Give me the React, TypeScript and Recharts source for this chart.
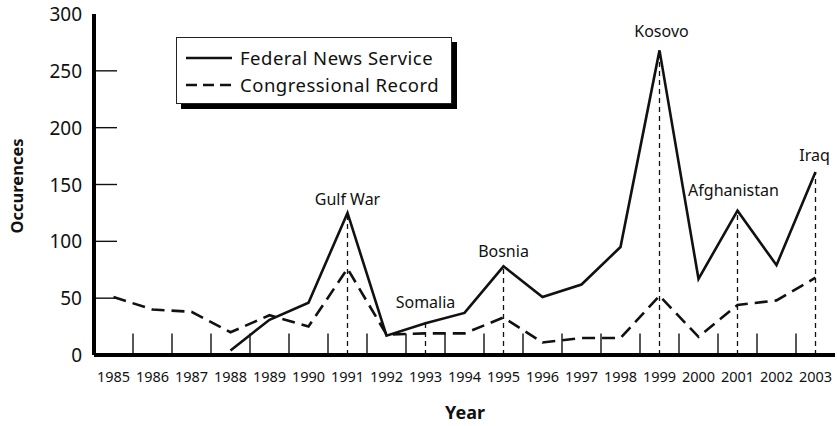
import { LineChart, Line, XAxis, YAxis, ReferenceLine, ReferenceDot, Legend, Label } from 'recharts'

const years = [1985, 1986, 1987, 1988, 1989, 1990, 1991, 1992, 1993, 1994, 1995, 1996, 1997, 1998, 1999, 2000, 2001, 2002, 2003]
const federalNewsService = [null, null, null, 4, 31, 46, 125, 17, 28, 37, 78, 51, 62, 95, 268, 67, 127, 79, 161]
const congressionalRecord = [51, 40, 38, 20, 35, 25, 76, 18, 19, 19, 33, 11, 15, 15, 52, 16, 44, 48, 68]
const yTicks = [0, 50, 100, 150, 200, 250, 300]
const events = ['Gulf War', 'Somalia', 'Bosnia', 'Kosovo', 'Afghanistan', 'Iraq']
const eventYears = [1991, 1993, 1995, 1999, 2001, 2003]

const FONT = '"Noto Sans", "Open Sans", Arial, sans-serif'
const INK = '#111'

// label nudges, px above the peak / sideways
const eventLabelPos: Record<string, { up: number; dx: number }> = {
  'Gulf War': { up: 8, dx: 0 },
  Somalia: { up: 15, dx: 0 },
  Bosnia: { up: 9, dx: 0 },
  Kosovo: { up: 13, dx: 2 },
  Afghanistan: { up: 15, dx: -4 },
  Iraq: { up: 11, dx: -1 },
}

const data = years.map((year, i) => ({
  year,
  fns: federalNewsService[i],
  cr: congressionalRecord[i],
}))

const fnsAt = (year: number) => federalNewsService[years.indexOf(year)] ?? 0

const YTick = (props: any) => {
  const { x, y, payload } = props
  const v = payload.value
  return (
    <g>
      <text x={x} y={y} dy={7} textAnchor="end" fontSize={19} fill={INK} fontFamily={FONT}>
        {v}
      </text>
      {v > 0 && v < 300 && <line x1={x + 14} x2={x + 35} y1={y} y2={y} stroke={INK} strokeWidth={1.4} />}
    </g>
  )
}

const LegendBox = () => (
  <div
    style={{
      width: 276,
      height: 67,
      boxSizing: 'border-box',
      border: '1px solid #222',
      background: '#fff',
      boxShadow: '5px 5px 0 #000',
      padding: '6px 0 0 9px',
      fontFamily: FONT,
      fontSize: 18.5,
      letterSpacing: 0.5,
      color: INK,
    }}
  >
    {[
      { name: 'Federal News Service', dash: undefined },
      { name: 'Congressional Record', dash: '11 6' },
    ].map((s) => (
      <div key={s.name} style={{ display: 'flex', alignItems: 'center', height: 27 }}>
        <svg width={46} height={6} style={{ marginRight: 8 }}>
          <line x1={0} x2={46} y1={3} y2={3} stroke={INK} strokeWidth={2.4} strokeDasharray={s.dash} />
        </svg>
        <span style={{ whiteSpace: 'nowrap' }}>{s.name}</span>
      </div>
    ))}
  </div>
)

export default function App() {
  return (
    <div style={{ position: 'fixed', left: 0, top: 0, width: 837, height: 426, background: '#fff' }}>
      <LineChart width={837} height={426} data={data} margin={{ top: 14, right: 2, bottom: 0, left: 0 }}>
        <XAxis
          dataKey="year"
          type="number"
          domain={[1984.5, 2003.5]}
          ticks={years}
          interval={0}
          height={71}
          tickSize={0}
          tickMargin={17}
          tick={{ fontSize: 14.5, fill: INK, fontFamily: FONT }}
          axisLine={{ stroke: '#000', strokeWidth: 4 }}
          tickLine={false}
        >
          <Label
            content={() => (
              <text x={465} y={419} textAnchor="middle" fontSize={18} fontWeight="bold" fill={INK} fontFamily={FONT}>
                Year
              </text>
            )}
          />
        </XAxis>
        <XAxis
          xAxisId="top"
          orientation="top"
          type="number"
          domain={[1984.5, 2003.5]}
          height={0}
          tick={false}
          tickLine={false}
          axisLine={{ stroke: '#333', strokeWidth: 1.5 }}
        />
        <YAxis
          domain={[0, 300]}
          ticks={yTicks}
          width={94}
          tickSize={0}
          tickMargin={12}
          tick={<YTick />}
          tickLine={false}
          axisLine={{ stroke: '#000', strokeWidth: 4 }}
          interval={0}
        >
          <Label
            content={() => (
              <text
                x={23}
                y={186}
                transform="rotate(-90 23 186)"
                textAnchor="middle"
                fontSize={16.5}
                fontWeight="bold"
                fill={INK}
                fontFamily={FONT}
              >
                Occurences
              </text>
            )}
          />
        </YAxis>
        <YAxis
          yAxisId="right"
          orientation="right"
          domain={[0, 300]}
          width={0}
          tick={false}
          tickLine={false}
          axisLine={{ stroke: '#333', strokeWidth: 1.5 }}
        />

        {years.slice(1).map((y) => (
          <ReferenceLine
            key={'b' + y}
            segment={[
              { x: y - 0.5, y: 0 },
              { x: y - 0.5, y: 19 },
            ]}
            stroke={INK}
            strokeWidth={1.4}
          />
        ))}

        {eventYears.map((y) => (
          <ReferenceLine
            key={'e' + y}
            segment={[
              { x: y, y: 0 },
              { x: y, y: fnsAt(y) },
            ]}
            stroke={INK}
            strokeWidth={1.3}
            strokeDasharray="5 4"
          />
        ))}

        <Line
          dataKey="fns"
          stroke={INK}
          strokeWidth={2.6}
          dot={false}
          isAnimationActive={false}
          name="Federal News Service"
        />
        <Line
          dataKey="cr"
          stroke={INK}
          strokeWidth={2.6}
          strokeDasharray="13 7"
          dot={false}
          isAnimationActive={false}
          name="Congressional Record"
        />

        {events.map((name, i) => {
          const pos = eventLabelPos[name]
          return (
            <ReferenceDot
              key={name}
              x={eventYears[i]}
              y={fnsAt(eventYears[i])}
              r={0}
              shape={(p: any) => (
                <text
                  x={p.cx + pos.dx}
                  y={p.cy - pos.up}
                  textAnchor="middle"
                  fontSize={16}
                  fill={INK}
                  fontFamily={FONT}
                >
                  {name}
                </text>
              )}
            />
          )
        })}

        <Legend
          layout="vertical"
          align="center"
          verticalAlign="middle"
          content={() => <LegendBox />}
          wrapperStyle={{ top: 37, left: 176, width: 282, height: 72 }}
        />
      </LineChart>
    </div>
  )
}
